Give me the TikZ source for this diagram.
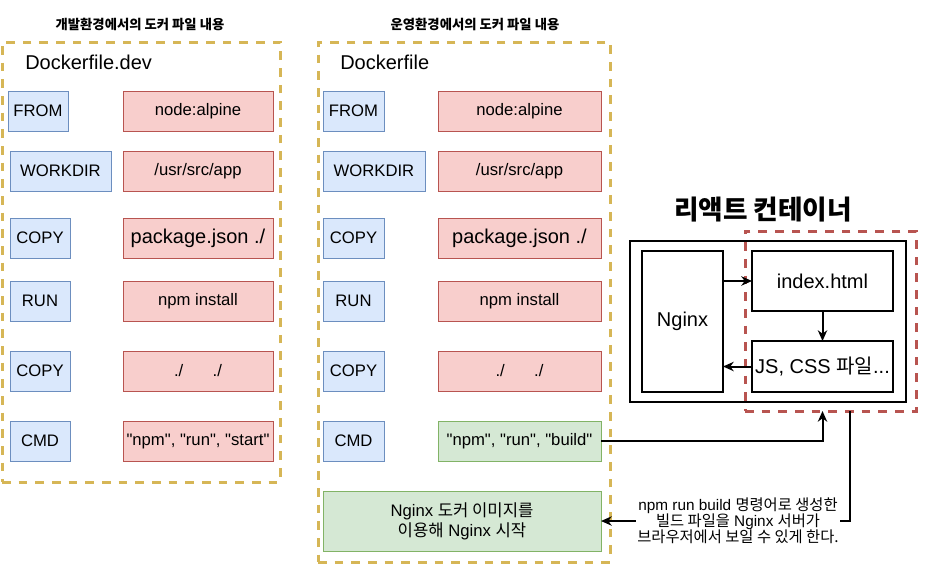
\documentclass[tikz,border=0pt]{standalone}
\usepackage{fontspec}
\setmainfont{Liberation Sans}[Ligatures=TeXOff]
\newfontfamily\kr{Noto Sans CJK KR}
\usetikzlibrary{arrows.meta}
\definecolor{bfill}{HTML}{DAE8FC}
\definecolor{bline}{HTML}{6C8EBF}
\definecolor{rfill}{HTML}{F8CECC}
\definecolor{rline}{HTML}{B85450}
\definecolor{gfill}{HTML}{D5E8D4}
\definecolor{gline}{HTML}{82B366}
\definecolor{yline}{HTML}{D6B656}
\newcommand\mybox[7]{\node[#2, minimum width={(#5-#3)*0.75pt}, minimum height={(#6-#4)*0.75pt}] (#1) at ({(#3+#5)/2},{(#4+#6)/2}) {#7};}
\begin{document}
\begin{tikzpicture}[x=0.75pt,y=-0.75pt,
  base/.style={inner sep=0pt, outer sep=0pt, font=\fontsize{12.5}{15}\selectfont, align=center},
  kw/.style={base, fill=bfill, draw=bline, line width=0.75pt},
  val/.style={base, fill=rfill, draw=rline, line width=0.75pt},
  gval/.style={base, fill=gfill, draw=gline, line width=0.75pt},
  cont/.style={inner sep=0pt, outer sep=0pt, draw=yline, line width=2.25pt, dash pattern=on 6.5pt off 6pt},
  rcont/.style={inner sep=0pt, outer sep=0pt, draw=rline, line width=2.25pt, dash pattern=on 6.5pt off 6pt},
  blk/.style={base, draw=black, line width=1.5pt, font=\fontsize{15}{18}\selectfont},
  ttl/.style={inner sep=0pt, font=\kr\bfseries\fontsize{10}{12}\selectfont},
  dname/.style={inner sep=0pt, anchor=west, font=\fontsize{15}{18}\selectfont},
  lbl/.style={inner sep=1pt, align=center, font=\fontsize{11.5}{12}\selectfont},
  ln/.style={draw=black, line width=1.5pt},
  arr/.style={ln, -{Stealth[length=8pt,width=7pt,inset=2.5pt]}}]
\useasboundingbox (0,0) rectangle (934,586);

% ---------- left: development Dockerfile ----------
\node[ttl] (t1) at (140,24) {개발환경에서의 도커 파일 내용};
\mybox{c1}{cont}{2}{42}{280}{482}{}
\node[dname] (d1) at (25,62) {Dockerfile.dev};
\mybox{k11}{kw}{8}{91}{68}{131}{FROM}
\mybox{k12}{kw}{10}{151}{111}{191}{WORKDIR}
\mybox{k13}{kw}{10}{218}{70}{258}{COPY}
\mybox{k14}{kw}{10}{281}{70}{321}{RUN}
\mybox{k15}{kw}{10}{351}{70}{391}{COPY}
\mybox{k16}{kw}{10}{421}{70}{461}{CMD}
\mybox{v11}{val}{123}{91}{273}{131}{node:alpine}
\mybox{v12}{val}{123}{151}{273}{191}{/usr/src/app}
\mybox{v13}{val, font=\fontsize{15}{18}\selectfont}{123}{218}{273}{258}{package.json ./}
\mybox{v14}{val}{123}{281}{273}{321}{npm install}
\mybox{v15}{val}{123}{351}{273}{391}{./\hspace{22pt}./}
\mybox{v16}{val}{123}{421}{273}{461}{"npm", "run", "start"}

% ---------- middle: production Dockerfile ----------
\node[ttl] (t2) at (475,24) {운영환경에서의 도커 파일 내용};
\mybox{c2}{cont}{318}{42}{610}{562}{}
\node[dname] (d2) at (340,62) {Dockerfile};
\mybox{k21}{kw}{323}{91}{384}{131}{FROM}
\mybox{k22}{kw}{323}{151}{425}{191}{WORKDIR}
\mybox{k23}{kw}{323}{218}{384}{258}{COPY}
\mybox{k24}{kw}{323}{281}{384}{321}{RUN}
\mybox{k25}{kw}{323}{351}{384}{391}{COPY}
\mybox{k26}{kw}{323}{421}{384}{461}{CMD}
\mybox{v21}{val}{438}{91}{601}{131}{node:alpine}
\mybox{v22}{val}{438}{151}{601}{191}{/usr/src/app}
\mybox{v23}{val, font=\fontsize{15}{18}\selectfont}{438}{218}{601}{258}{package.json ./}
\mybox{v24}{val}{438}{281}{601}{321}{npm install}
\mybox{v25}{val}{438}{351}{601}{391}{./\hspace{22pt}./}
\mybox{build}{gval}{438}{421}{601}{461}{"npm", "run", "build"}
\mybox{ngxg}{gval}{323}{491}{601}{551}{Nginx {\kr 도커 이미지를}\\{\kr 이용해} Nginx {\kr 시작}}

% ---------- right: react container ----------
\node[inner sep=0pt, font=\kr\bfseries\fontsize{20}{24}\selectfont] (t3) at (763,210) {리액트 컨테이너};
\mybox{outer}{base, draw=black, line width=1.5pt}{630}{241}{906}{402}{}
\mybox{red}{rcont}{745}{231}{916}{411}{}
\mybox{ngx}{blk}{642}{251}{723}{392}{Nginx}
\mybox{idx}{blk}{752}{251}{893}{311}{index.html}
\mybox{js}{blk}{752}{341}{893}{392}{JS, CSS {\kr 파일}...}

\draw[arr] (ngx.east |- idx.west) -- (idx.west);
\draw[arr] (idx.south) -- (js.north);
\draw[arr] (js.west) -- (ngx.east |- js.west);

\draw[arr] (build.east) -| (idx.south |- red.south);

\coordinate (r1) at (850,411);
\node[lbl] (note) at (738,521) {npm run build {\kr 명령어로 생성한}\\{\kr 빌드 파일을} Nginx {\kr 서버가}\\{\kr 브라우저에서 보일 수 있게 한다.}};
\draw[ln] (r1) |- (note.east);
\draw[arr] (note.west) -- (ngxg.east);
\end{tikzpicture}
\end{document}
